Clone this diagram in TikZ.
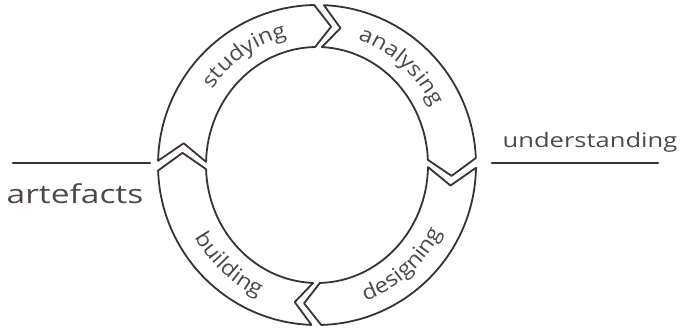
\documentclass[tikz,border=0pt]{standalone}
\usepackage{fontspec}
\usetikzlibrary{decorations.text}
\newfontfamily\hand[FakeStretch=1.12]{Open Sans}
\definecolor{ink}{HTML}{383230}
\definecolor{txt}{HTML}{4E4847}
\newcommand\arcfont{\hand\fontsize{21}{21}\selectfont}
\tikzset{
  seg/.style={draw=ink, fill=white, line width=1.8pt, line join=round},
  rulebar/.style={draw=ink, line width=2.6pt, line cap=round},
  lbl/.style={text=txt, inner sep=0pt, anchor=base},
  arctext/.style={decorate, decoration={text along path, text align=center, text color=txt, text={|\arcfont|#1}}}
}
\newcommand\cycleseg[2]{%
  \draw[seg] (#1:159pt and 160pt)
    arc[start angle=#1, end angle=#2, x radius=159pt, y radius=160pt]
    -- ({#2-7}:135pt and 139pt) -- (#2:111pt and 118pt)
    arc[start angle=#2, end angle=#1, x radius=111pt, y radius=118pt]
    -- ({#1-7.5}:135pt and 139pt) -- cycle;}
\begin{document}
\begin{tikzpicture}[x=1pt, y=1pt]
\useasboundingbox (0,0) rectangle (680,331);
\begin{scope}[shift={(317,166)}]
  \cycleseg{178.5}{91}
  \cycleseg{87.5}{2.5}
  \cycleseg{-1}{-88.5}
  \cycleseg{-92}{-178}
  \path[arctext=studying] (170:128pt and 132pt) arc[start angle=170, end angle=78, x radius=128pt, y radius=132pt];
  \path[arctext=analysing] (95:128pt and 132pt) arc[start angle=95, end angle=3, x radius=128pt, y radius=132pt];
  \path[arctext=designing] (-95:141pt and 145pt) arc[start angle=-95, end angle=-3, x radius=141pt, y radius=145pt];
  \path[arctext=building] (-178:141pt and 145pt) arc[start angle=-178, end angle=-86, x radius=141pt, y radius=145pt];
\end{scope}
\coordinate (a1) at (13,168);
\coordinate (a2) at (150,168);
\draw[rulebar] (a1) -- (a2);
\coordinate (u1) at (492,168);
\coordinate (u2) at (658,168);
\draw[rulebar, line width=2.3pt] (u1) -- (u2);
\node[lbl] (artefacts) at (75,127) {\scalebox{1.15}[1]{\hand\fontsize{26}{26}\selectfont artefacts}};
\node[lbl] (understanding) at (590,183) {\scalebox{1.14}[1]{\hand\fontsize{20}{20}\selectfont understanding}};
\end{tikzpicture}
\end{document}
